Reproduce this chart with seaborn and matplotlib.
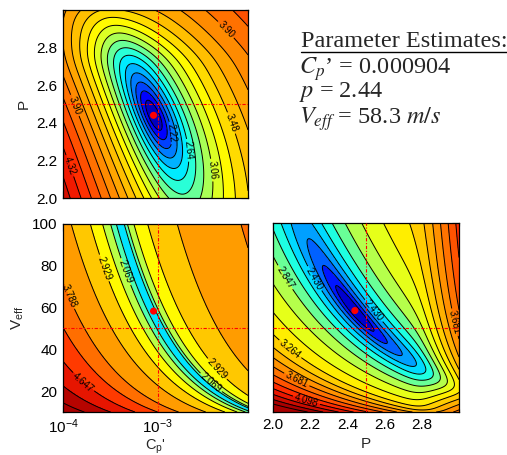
import numpy as np
import matplotlib
matplotlib.use("Agg")
import matplotlib.pyplot as plt
from matplotlib.colors import LinearSegmentedColormap, Normalize
from matplotlib.lines import Line2D
from matplotlib.ticker import AutoMinorLocator
import seaborn as sns

# axis ranges
cp_limits = [1e-4, 9e-3]
p_limits = [2.0, 3.0]
veff_limits = [10, 100]

# best fit (red dots) and reference values (red dash-dot lines)
best_cp = 0.000904
best_p = 2.44
best_veff = 58.3
ref_cp = 1e-3
ref_p = 2.5
ref_veff = 50

# labelled contour levels, and how many unlabelled lines sit between each pair
tl_levels_major = [1.80, 2.22, 2.64, 3.06, 3.48, 3.90, 4.32, 4.74]
bl_levels_major = [1.210, 2.069, 2.929, 3.788, 4.647, 5.506]
br_levels_major = [1.596, 2.013, 2.430, 2.847, 3.264, 3.681, 4.098, 4.515]
tl_between = 2
bl_between = 1
br_between = 2

# printed contour labels and where they sit
tl_label_levels = [2.22, 2.64, 3.06, 3.48, 3.90, 4.32]
tl_label_cp = [1.35e-3, 2.19e-3, 4.0e-3, 6.05e-3, 5.37e-3, 1.45e-4, 1.4e-4]
tl_label_p = [2.345, 2.255, 2.15, 2.40, 2.90, 2.50, 2.185]
bl_label_levels = [2.069, 2.929, 3.788, 4.647]
bl_label_cp = [4.85e-4, 3.81e-3, 2.86e-4, 4.86e-3, 1.56e-4, 1.69e-4]
bl_label_veff = [77.6, 25.0, 79.3, 33.0, 68.1, 25.0]
br_label_levels = [2.013, 2.430, 2.847, 3.264, 3.681, 4.098]
br_label_p = [2.53, 2.186, 2.052, 2.105, 2.132, 2.97, 2.186]
br_label_veff = [57.4, 71.7, 73.4, 41.4, 26.2, 52.6, 17.5]

# colour range used by each panel
tl_color_range = [1.80, 4.74]
bl_color_range = [0.05, 5.40]
br_color_range = [1.85, 4.45]

# shape of the misfit valley
tl_shape = dict(fmin=1.8, g_neg=0.963, g_pos=0.963, slope=-0.40, bend=-0.15,
                w_neg=0.055, w_pos=0.055, w_along=0.14, k_neg=1.05, s_neg=0.0,
                k_end=1.8, t_end=0.3, w_end=0.3)
bl_shape = dict(fmin=1.3, g_neg=1.07, g_pos=0.645, slope=-1.42, bend=0.0,
                w_neg=0.059, w_pos=0.0148, w_along=1.5, k_neg=1.0, s_neg=0.8,
                k_end=0.0, t_end=0.0, w_end=1.0)
br_shape = dict(fmin=1.88, g_neg=0.55, g_pos=0.55, slope=-0.75, bend=0.0,
                w_neg=0.026, w_pos=0.026, w_along=0.12, k_neg=1.7, s_neg=0.42,
                k_end=2.8, t_end=0.35, w_end=1e3)

rainbow = LinearSegmentedColormap.from_list(
    "idl_rainbow",
    [(0.00, "#0000a0"), (0.07, "#0000ff"), (0.14, "#0060ff"), (0.21, "#00b0ff"),
     (0.28, "#00ffff"), (0.35, "#60ffa0"), (0.42, "#c0ff40"), (0.49, "#ffff00"),
     (0.58, "#ffc800"), (0.67, "#ff9600"), (0.76, "#ff6400"), (0.86, "#ff1e00"),
     (1.00, "#aa0000")],
)


def all_levels(major, between):
    parts = [np.linspace(a, b, between + 2)[:-1] for a, b in zip(major[:-1], major[1:])]
    return np.concatenate(parts + [np.array([major[-1]])])


def softplus(x, width=0.03):
    return width * np.logaddexp(0.0, x / width)


def valley_surface(across, along, shape):
    t = along
    s = across - shape["slope"] * t - shape["bend"] * t ** 2
    width = np.where(s < 0, shape["w_neg"], shape["w_pos"])
    gain = np.where(s < 0, shape["g_neg"], shape["g_pos"])
    q = (s / width) ** 2 + (t / shape["w_along"]) ** 2
    z = shape["fmin"] + gain * np.log10(1 + q)
    z = z + shape["k_neg"] * softplus(-s - shape["s_neg"])
    z = z + shape["k_end"] * softplus(t - shape["t_end"]) / (1 + (s / shape["w_end"]) ** 2)
    return z


def style_axes(ax):
    ax.tick_params(which="both", direction="in", top=True, right=True,
                   labelsize=11, width=0.8, colors="black", pad=4)
    ax.tick_params(which="major", length=5)
    ax.tick_params(which="minor", length=2.5)
    for spine in ax.spines.values():
        spine.set_color("black")
        spine.set_linewidth(0.9)


def draw_field(ax, x, y, z, major, between, color_range, label_levels, label_xy, fmt):
    levels = all_levels(major, between)
    norm = Normalize(*color_range)
    ax.contourf(x, y, z, levels=levels, cmap=rainbow, norm=norm, extend="both")
    plain = [lv for lv in levels if not np.any(np.isclose(lv, label_levels))]
    ax.contour(x, y, z, levels=plain, colors="black", linewidths=0.7)
    labelled = ax.contour(x, y, z, levels=label_levels, colors="black", linewidths=0.7)
    ax.clabel(labelled, manual=label_xy, inline=True, fontsize=7, fmt=fmt,
              inline_spacing=2)


def add_markers(ax, x_ref, y_ref, x_best, y_best):
    ax.axvline(x_ref, color="red", lw=0.8, ls=(0, (3, 1.5, 1, 1.5)), zorder=4)
    ax.axhline(y_ref, color="red", lw=0.8, ls=(0, (3, 1.5, 1, 1.5)), zorder=4)
    sns.scatterplot(x=[x_best], y=[y_best], ax=ax, color="red", s=26,
                    edgecolor="none", zorder=5, legend=False)


def main():
    sns.set_style("ticks")
    plt.rcParams["font.family"] = ["Liberation Sans", "DejaVu Sans"]

    fig = plt.figure(figsize=(5.07, 4.55), dpi=100)
    ax_tl = fig.add_axes([0.1243, 0.5648, 0.3649, 0.4132])
    ax_bl = fig.add_axes([0.1243, 0.0945, 0.3649, 0.4132])
    ax_br = fig.add_axes([0.5385, 0.0945, 0.3669, 0.4154])

    n = 240
    log_cp = np.linspace(np.log10(cp_limits[0]), np.log10(cp_limits[1]), n)
    cp = 10 ** log_cp
    p = np.linspace(*p_limits, n)
    veff = np.linspace(*veff_limits, n)
    span = np.log10(cp_limits[1]) - np.log10(cp_limits[0])
    x0 = (np.log10(best_cp) - np.log10(cp_limits[0])) / span

    # top left: Cp' vs p
    CP, P = np.meshgrid(cp, p)
    across = (np.log10(CP) - np.log10(cp_limits[0])) / span - x0
    z_tl = valley_surface(across, P - best_p, tl_shape)
    ax_tl.set_xscale("log")
    draw_field(ax_tl, CP, P, z_tl, tl_levels_major, tl_between, tl_color_range,
               tl_label_levels, list(zip(tl_label_cp, tl_label_p)), "%.2f")
    add_markers(ax_tl, ref_cp, ref_p, best_cp, best_p)
    ax_tl.set_xlim(*cp_limits)
    ax_tl.set_ylim(*p_limits)
    ax_tl.set_yticks([2.0, 2.2, 2.4, 2.6, 2.8])
    ax_tl.yaxis.set_minor_locator(AutoMinorLocator(4))
    ax_tl.tick_params(axis="x", which="both", labelbottom=False)
    ax_tl.set_ylabel("P", fontsize=11)
    style_axes(ax_tl)

    # bottom left: Cp' vs Veff
    CP, V = np.meshgrid(cp, veff)
    z_bl = valley_surface(np.log10(CP) - np.log10(best_cp),
                          np.log10(V) - np.log10(best_veff), bl_shape)
    ax_bl.set_xscale("log")
    draw_field(ax_bl, CP, V, z_bl, bl_levels_major, bl_between, bl_color_range,
               bl_label_levels, list(zip(bl_label_cp, bl_label_veff)), "%.3f")
    add_markers(ax_bl, ref_cp, ref_veff, best_cp, best_veff)
    ax_bl.set_xlim(*cp_limits)
    ax_bl.set_ylim(*veff_limits)
    ax_bl.set_yticks([20, 40, 60, 80, 100])
    ax_bl.yaxis.set_minor_locator(AutoMinorLocator(4))
    ax_bl.set_xlabel(r"C$_{\mathdefault{p}}$'", fontsize=10.5, labelpad=1)
    ax_bl.set_ylabel(r"V$_{\mathdefault{eff}}$", fontsize=11)
    style_axes(ax_bl)

    # bottom right: p vs Veff
    P, V = np.meshgrid(p, veff)
    z_br = valley_surface(np.log10(V) - np.log10(best_veff), P - best_p, br_shape)
    draw_field(ax_br, P, V, z_br, br_levels_major, br_between, br_color_range,
               br_label_levels, list(zip(br_label_p, br_label_veff)), "%.3f")
    add_markers(ax_br, ref_p, ref_veff, best_p, best_veff)
    ax_br.set_xlim(*p_limits)
    ax_br.set_ylim(*veff_limits)
    ax_br.set_xticks([2.0, 2.2, 2.4, 2.6, 2.8])
    ax_br.set_yticks([20, 40, 60, 80, 100])
    ax_br.xaxis.set_minor_locator(AutoMinorLocator(4))
    ax_br.yaxis.set_minor_locator(AutoMinorLocator(4))
    ax_br.tick_params(axis="y", which="both", labelleft=False)
    ax_br.set_xlabel("P", fontsize=11, labelpad=4)
    style_axes(ax_br)

    # parameter estimates block
    serif = ["Liberation Serif", "DejaVu Serif"]
    title = fig.text(301.0 / 507, 1 - 46.7 / 455, "Parameter Estimates:", fontsize=17.5,
                     family=serif, va="baseline", ha="left")
    lines = [r"$C_{p}$’ = 0.000904", r"$p$ = 2.44", r"$V_{eff}$ = 58.3 $m/s$"]
    baselines = [73.3, 97.5, 123.3]
    for text, yb in zip(lines, baselines):
        fig.text(299 / 507, 1 - yb / 455, text, fontsize=17.5, family=serif,
                 math_fontfamily="stix", va="baseline", ha="left")

    fig.canvas.draw()
    bb = title.get_window_extent()
    y_ul = 1 - 51.7 / 455
    fig.add_artist(Line2D([bb.x0 / fig.bbox.width, bb.x1 / fig.bbox.width], [y_ul, y_ul],
                          transform=fig.transFigure, color="black", lw=1.0))

    fig.savefig("out.png", dpi=100)
    plt.close(fig)


if __name__ == "__main__":
    main()
